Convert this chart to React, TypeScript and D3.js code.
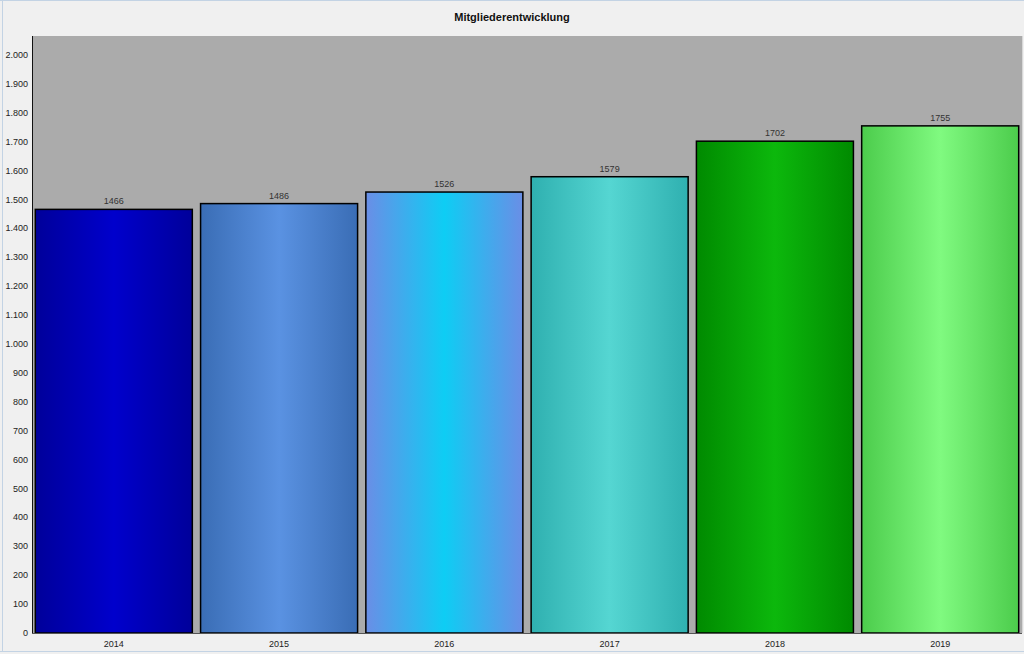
import React from "react";
import * as d3 from "d3";

const years = ["2014", "2015", "2016", "2017", "2018", "2019"];
const members = [1466, 1486, 1526, 1579, 1702, 1755];
const yTicks = [0, 100, 200, 300, 400, 500, 600, 700, 800, 900, 1000, 1100, 1200, 1300, 1400, 1500, 1600, 1700, 1800, 1900, 2000];
const gradients = [
  ["#00009a", "#0000cc", "#00009a"],
  ["#3a6db5", "#5a92e2", "#3a6db5"],
  ["#6a8ee6", "#0ecdf4", "#6a8ee6"],
  ["#2fb0b0", "#55d6d2", "#2fb0b0"],
  ["#008a00", "#0cb80c", "#008a00"],
  ["#4ccc4c", "#80fa80", "#4ccc4c"],
];

const W = 1024, H = 654;
const left = 32, right = 1022, top = 36, bottom = 633;

export default function App() {
  const x = d3.scaleBand<string>().domain(years).range([left, right]).paddingInner(0.05).paddingOuter(0.02);
  const y = d3.scaleLinear().domain([0, 2066]).range([bottom, top]);
  const fmt = (v: number) => d3.format(",")(v).replace(/,/g, ".");
  const font = "'Liberation Sans', Arial, sans-serif";
  return (
    <svg width={W} height={H} style={{ position: "fixed", left: 0, top: 0 }} fontFamily={font}>
      <defs>
        {gradients.map((g, i) => (
          <linearGradient key={i} id={`g${i}`} x1="0" x2="1" y1="0" y2="0">
            <stop offset="0%" stopColor={g[0]} />
            <stop offset="50%" stopColor={g[1]} />
            <stop offset="100%" stopColor={g[2]} />
          </linearGradient>
        ))}
      </defs>
      <rect x={0} y={0} width={W} height={H} fill="#f0f0f0" />
      <line x1={0} x2={W} y1={0.5} y2={0.5} stroke="#c3d3e4" />
      <line x1={2.5} x2={2.5} y1={0} y2={652} stroke="#c3d3e4" />
      <line x1={0} x2={W} y1={651.5} y2={651.5} stroke="#c3d3e4" />
      <text x={512} y={21} textAnchor="middle" fontSize={11} fontWeight="bold" fill="#111">Mitgliederentwicklung</text>
      <rect x={left} y={top} width={right - left} height={bottom - top} fill="#ababab" />
      <line x1={right + 0.5} x2={right + 0.5} y1={top} y2={bottom} stroke="#d8d8d8" />
      {years.map((yr, i) => {
        const bx = x(yr)!;
        const by = y(members[i]);
        return (
          <g key={yr}>
            <rect x={bx} y={by} width={x.bandwidth()} height={bottom - by} fill={`url(#g${i})`} stroke="#000" strokeWidth={1.5} />
            <text x={bx + x.bandwidth() / 2} y={by - 5} textAnchor="middle" fontSize={9} fill="#333">{members[i]}</text>
            <text x={bx + x.bandwidth() / 2} y={647} textAnchor="middle" fontSize={9} fill="#222">{yr}</text>
          </g>
        );
      })}
      <line x1={left + 0.5} x2={left + 0.5} y1={top} y2={bottom} stroke="#111" strokeWidth={1} />
      <line x1={left} x2={right} y1={bottom + 0.5} y2={bottom + 0.5} stroke="#555" strokeWidth={1} />
      {yTicks.map((t) => (
        <text key={t} x={28} y={y(t) + 3} textAnchor="end" fontSize={9} fill="#222">{fmt(t)}</text>
      ))}
    </svg>
  );
}
